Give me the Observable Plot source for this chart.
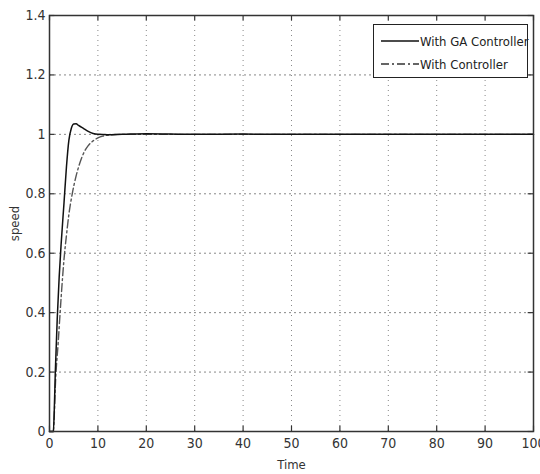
<!DOCTYPE html>
<html>
<head>
<meta charset="utf-8">
<script src="https://cdn.jsdelivr.net/npm/d3@7"></script>
<script src="https://cdn.jsdelivr.net/npm/@observablehq/plot@0.6"></script>
<style>
  html, body { margin: 0; padding: 0; background: #fff; }
  #wrap { position: relative; width: 540px; height: 474px; overflow: hidden; }
  #chart svg { font-stretch: condensed; }
  #legend { position: absolute; left: 373px; top: 24px; width: 153px; height: 52px;
    border: 1px solid #222; background: #fff; font-family: "DejaVu Sans", sans-serif; font-stretch: condensed;
    font-size: 13px; color: #222; white-space: nowrap; }
  .row { position: absolute; left: 0; height: 20px; display: flex; align-items: center; }
  .row svg { margin-left: 7px; margin-right: 1px; }
</style>
</head>
<body>
<div id="wrap">
  <div id="chart"></div>
  <div id="legend">
    <div class="row" style="top:6px"><svg width="38" height="4"><line x1="0" y1="2" x2="38" y2="2" stroke="#111" stroke-width="1.5"/></svg><span>With GA Controller</span></div>
    <div class="row" style="top:29px"><svg width="38" height="4"><line x1="0" y1="2" x2="38" y2="2" stroke="#333" stroke-width="1.3" stroke-dasharray="8,3,2,3"/></svg><span>With Controller</span></div>
  </div>
</div>
<script>
const gaTime = [0, 0.8, 1.0, 1.2, 1.6, 2.0, 2.4, 3.0, 3.5, 4.0, 4.5, 5.0, 5.5, 6.0, 7.0, 8.0, 9.0, 10, 12, 15, 20, 30, 40, 50, 60, 70, 80, 90, 100];
const gaSpeed = [0, 0, 0.08, 0.2, 0.38, 0.52, 0.63, 0.77, 0.89, 0.98, 1.02, 1.035, 1.036, 1.03, 1.02, 1.01, 1.003, 1.0, 0.999, 1.0, 1.002, 1.0, 1.001, 1.0, 1.0, 1.0, 1.0, 1.0, 1.0];
const ctrlTime = [0, 0.8, 1.0, 1.2, 1.8, 2.4, 3.0, 3.5, 4.0, 4.7, 5.5, 6.2, 7.0, 8.0, 9.0, 10, 11, 12, 14, 20, 30, 40, 50, 60, 70, 80, 90, 100];
const ctrlSpeed = [0, 0, 0.06, 0.15, 0.3, 0.45, 0.58, 0.66, 0.73, 0.8, 0.86, 0.9, 0.935, 0.962, 0.978, 0.988, 0.994, 0.997, 1.0, 1.0, 1.0, 1.0, 1.0, 1.0, 1.0, 1.0, 1.0, 1.0];
const xTicks = [0, 10, 20, 30, 40, 50, 60, 70, 80, 90, 100];
const yTicks = [0, 0.2, 0.4, 0.6, 0.8, 1, 1.2, 1.4];
const yTickLabels = ["0", "0.2", "0.4", "0.6", "0.8", "1", "1.2", "1.4"];

const ga = gaTime.map((t, i) => ({t, v: gaSpeed[i]}));
const ctrl = ctrlTime.map((t, i) => ({t, v: ctrlSpeed[i]}));

const font = '"DejaVu Sans", sans-serif';
const chart = Plot.plot({
  width: 540, height: 474,
  marginLeft: 49, marginRight: 7, marginTop: 15, marginBottom: 43,
  style: {fontFamily: font, fontSize: "14px", color: "#333", background: "#fff", overflow: "visible"},
  x: {domain: [0, 100]},
  y: {domain: [0, 1.4]},
  marks: [
    Plot.gridX(xTicks, {stroke: "#888", strokeOpacity: 1, strokeDasharray: "1,4", strokeWidth: 1}),
    Plot.gridY(yTicks, {stroke: "#888", strokeOpacity: 1, strokeDasharray: "2,3", strokeWidth: 1}),
    Plot.ruleY(yTicks, {y: d => d, x1: 0, x2: 1.1, stroke: "#333", strokeWidth: 1.2}),
    Plot.ruleY(yTicks, {y: d => d, x1: 98.9, x2: 100, stroke: "#333", strokeWidth: 1.2}),
    Plot.ruleX(xTicks, {x: d => d, y1: 0, y2: 0.018, stroke: "#333", strokeWidth: 1.2}),
    Plot.ruleX(xTicks, {x: d => d, y1: 1.382, y2: 1.4, stroke: "#333", strokeWidth: 1.2}),
    Plot.line(ctrl, {x: "t", y: "v", stroke: "#555", strokeWidth: 1.4, strokeDasharray: "8,3,2,3", curve: "monotone-x"}),
    Plot.line(ga, {x: "t", y: "v", stroke: "#111", strokeWidth: 1.5, curve: "monotone-x"}),
    Plot.frame({stroke: "#333", strokeWidth: 1.5}),
    Plot.axisX(xTicks, {tickSize: 0, tickPadding: 7, label: null, fontSize: 14, fill: "#333"}),
    Plot.axisY(yTicks, {tickSize: 0, tickPadding: 4, label: null, fontSize: 14, fill: "#333",
      tickFormat: d => yTickLabels[yTicks.indexOf(d)]}),
    Plot.text(["Time"], {x: 50, y: 0, dy: 28, fontSize: 13, fill: "#333", lineAnchor: "top"}),
    Plot.text(["speed"], {x: 0, y: 0.7, dx: -35, rotate: -90, fontSize: 13, fill: "#333"})
  ]
});
document.getElementById("chart").appendChild(chart);
</script>
</body>
</html>
